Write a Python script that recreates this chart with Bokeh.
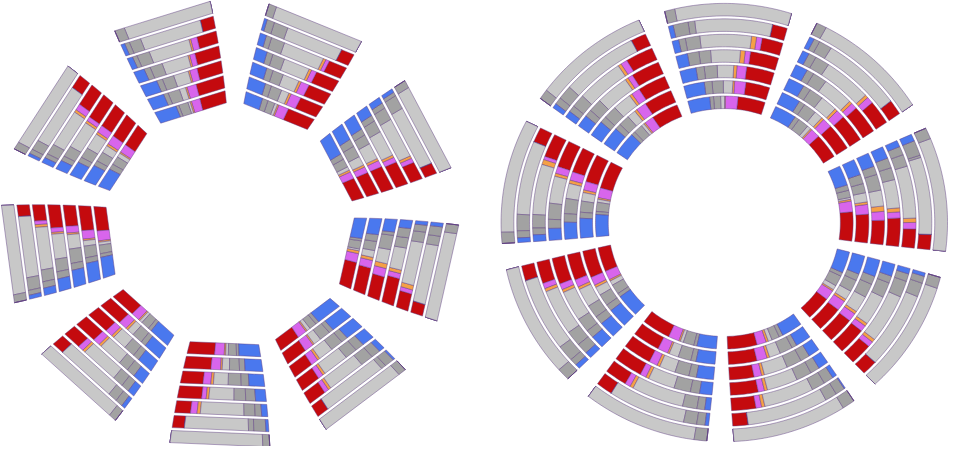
import numpy as np
from bokeh.plotting import figure
from bokeh.models import Range1d, ColumnDataSource
from bokeh.embed import file_html
from bokeh.resources import INLINE

# segment order along each bar (counter-clockwise)
segments = ["red", "magenta", "orange", "light", "dark", "dark2", "blue"]
seg_colors = ["#c40a0e", "#d865ec", "#f5a046", "#c8c8c8", "#a2a2a2", "#9e9e9e", "#4a78ee"]

# ---------------- left chart: 9 sectors, 7 rings each (inner -> outer) ----------------
left_sectors = ["bottom", "lower-right", "right", "right-upper", "top-right",
                "top-left", "upper-left", "left", "lower-left"]
L_BOTTOM = [[37, 13, 2, 3.5, 11, 3.5, 29], [34, 12, 2, 9, 12.5, 7, 22], [26, 9, 3, 17, 15, 9, 18],
            [27, 5, 3, 28, 13, 11, 12], [17, 7, 3.5, 47, 12, 7, 6.5], [12.5, 0, 0, 66, 5.5, 12.5, 3],
            [0, 0, 0, 93, 7, 0, 0]]
L_LOWER_RIGHT = [[30, 13, 2, 5, 10, 5, 35], [28, 12, 2, 10, 14, 6, 28], [25, 9, 3, 18, 15, 8, 22],
                 [23, 6, 3, 30, 14, 10, 14], [20, 5, 3, 42, 14, 10, 6], [13, 0, 0, 70, 5, 10, 2],
                 [0, 0, 0, 92, 8, 0, 0]]
L_RIGHT = [[37, 12.5, 4, 2.5, 11.5, 3.5, 28.5], [35, 10, 4, 9, 12, 9, 21], [28, 10, 5.6, 17, 17, 4, 15],
           [32, 6, 4, 26, 12, 11, 9.5], [19, 4.6, 5, 48, 11.5, 7.7, 4], [12.5, 0, 0, 63, 10, 10, 4],
           [0, 0, 0, 91, 9, 0, 0]]
L_RIGHT_UPPER = [[30, 10, 3, 5, 12, 8, 32], [30, 8, 3, 12, 15, 10, 22], [30, 8, 3, 20, 12, 8, 19],
                 [28, 6, 3, 30, 14, 7, 12], [20, 5, 3, 45, 14, 6, 7], [12, 0, 0, 65, 15, 4, 4],
                 [0, 0, 0, 92, 8, 0, 0]]
L_TOP_RIGHT = [[38, 14, 2, 4, 10, 8, 24], [30, 13, 3, 10, 14, 8, 22], [28, 10, 3, 20, 13, 8, 18],
               [27, 6, 3, 30, 14, 7, 13], [20, 4, 3, 45, 15, 6, 7], [14, 0, 0, 60, 15, 8, 3],
               [0, 0, 0, 92, 8, 0, 0]]
L_TOP_LEFT = [[36, 12, 2, 3, 13, 4, 30], [36, 12, 2, 8, 15, 6, 21], [30, 9, 2, 18, 14, 7, 20],
              [28, 6, 2, 30, 14, 7, 12], [22, 7, 2, 45, 14, 5, 6], [14, 0, 0, 64, 12, 5, 4],
              [0, 0, 0, 90, 10, 0, 0]]
L_UPPER_LEFT = [[32, 12, 2, 6, 12, 8, 28], [32, 12, 3, 10, 13, 7, 23], [30, 9, 3, 20, 13, 7, 18],
                [30, 5, 3, 32, 13, 6, 11], [25, 7, 3, 42, 12, 5, 6], [15, 0, 0, 66, 11, 5, 3],
                [0, 0, 0, 92, 8, 0, 0]]
L_LEFT = [[34, 14, 2, 4, 12, 5, 29], [32, 11, 2, 7, 15, 7, 25], [25, 8, 2, 17, 17, 8, 20],
          [26, 5, 2, 28, 14, 8, 14], [18, 4, 3, 47, 13, 7, 8], [12, 0, 0, 63, 13, 5, 4],
          [0, 0, 0, 92, 8, 0, 0]]
L_LOWER_LEFT = [[35, 12, 2, 4, 12, 5, 30], [32, 11, 3, 9, 14, 7, 24], [28, 9, 3, 18, 14, 8, 20],
                [26, 8, 3, 28, 12, 10, 13], [20, 6, 3, 42, 12, 9, 8], [13, 0, 0, 65, 10, 8, 4],
                [0, 0, 0, 92, 8, 0, 0]]
left_data = [L_BOTTOM, L_LOWER_RIGHT, L_RIGHT, L_RIGHT_UPPER, L_TOP_RIGHT,
             L_TOP_LEFT, L_UPPER_LEFT, L_LEFT, L_LOWER_LEFT]

# ---------------- right chart: 9 sectors, 7 rings each (inner -> outer) ----------------
right_sectors = ["top", "upper-left", "left", "lower-left", "bottom-left",
                 "bottom-right", "lower-right", "right", "upper-right"]
R_TOP = [[35, 16, 1, 5, 9, 5, 28], [28, 13, 2, 11, 13, 9, 24], [29, 10, 3.4, 17, 13.5, 8.5, 17],
         [27, 5, 4.5, 28, 11, 11, 11], [19, 5, 4.5, 46, 13, 6, 6], [12.5, 0, 0, 64, 5.5, 12.5, 4],
         [0, 0, 0, 92, 8, 0, 0]]
R_UPPER_LEFT = [[35, 12, 2, 4, 12, 5, 30], [33, 12, 3, 10, 13, 7, 22], [30, 9, 3, 20, 14, 7, 17],
                [28, 5, 3, 32, 13, 7, 12], [25, 6, 3, 42, 12, 6, 6], [13, 0, 0, 65, 12, 6, 4],
                [0, 0, 0, 92, 8, 0, 0]]
R_LEFT = [[36, 13, 2, 4, 12, 4, 29], [33, 10, 3, 10, 13, 7, 23], [27, 9, 3.5, 16, 16, 9, 18],
          [27, 7, 3, 27, 16, 9, 12], [21, 3, 4.5, 45, 12, 6, 6], [13, 0, 0, 63, 14, 6, 4],
          [0, 0, 0, 91, 9, 0, 0]]
R_LOWER_LEFT = [[32, 12, 2, 6, 13, 5, 30], [32, 10, 3, 10, 14, 8, 23], [28, 8, 3, 20, 14, 9, 18],
                [26, 6, 3, 30, 14, 8, 13], [20, 5, 3, 42, 14, 10, 6], [13, 0, 0, 63, 14, 6, 4],
                [0, 0, 0, 90, 10, 0, 0]]
R_BOTTOM_LEFT = [[37, 14, 2, 4, 14, 4, 25], [32, 12, 2, 11, 15, 6, 22], [30, 9, 3, 17, 15, 8, 18],
                 [28, 6, 3, 26, 16, 9, 12], [20, 5, 3, 47, 13, 7, 5], [14, 0, 0, 65, 11, 7, 3],
                 [0, 0, 0, 90, 10, 0, 0]]
R_BOTTOM_RIGHT = [[38, 12, 3, 5, 10, 5, 27], [33, 12, 3, 13, 15, 6, 18], [26, 8, 3, 25, 16, 10, 12],
                  [27, 6, 3, 30, 15, 9, 10], [22, 5, 3, 45, 12, 9, 4], [13, 0, 0, 68, 10, 8, 1],
                  [0, 0, 0, 90, 10, 0, 0]]
R_LOWER_RIGHT = [[32, 13, 2, 6, 14, 5, 28], [30, 12, 3, 11, 14, 8, 22], [28, 9, 3, 18, 15, 9, 18],
                 [27, 6, 3, 30, 15, 7, 12], [20, 5, 3, 45, 15, 7, 5], [13, 0, 0, 66, 12, 6, 3],
                 [0, 0, 0, 91, 9, 0, 0]]
R_RIGHT = [[38, 14, 2.4, 2.4, 9.5, 7, 26], [34, 11.5, 3, 11, 11, 11, 19], [26, 9.4, 5.7, 17, 17, 9, 15],
           [28, 6, 4, 28, 12, 10, 12], [17.5, 6, 4, 48, 11, 8, 6], [13, 0, 0, 66, 2, 13, 6],
           [0, 0, 0, 91, 9, 0, 0]]
R_UPPER_RIGHT = [[33, 12, 2, 5, 14, 6, 28], [32, 11, 3, 10, 15, 7, 22], [30, 9, 3, 18, 15, 8, 17],
                 [28, 6, 3, 30, 14, 7, 12], [22, 6, 3, 43, 13, 7, 6], [13, 0, 0, 67, 11, 5, 4],
                 [0, 0, 0, 92, 8, 0, 0]]
right_data = [R_TOP, R_UPPER_LEFT, R_LEFT, R_LOWER_LEFT, R_BOTTOM_LEFT,
              R_BOTTOM_RIGHT, R_LOWER_RIGHT, R_RIGHT, R_UPPER_RIGHT]


def build(data, cx, cy, start_deg, r_in, r_out, h_in_deg, h_out_deg, straight, gap=3.0):
    xs, ys, cols = [], [], []
    n_ring = len(data[0])
    pitch = (r_out - r_in + gap) / n_ring
    thick = pitch - gap

    def half(r):
        t = (r - r_in) / (r_out - r_in)
        return np.radians(h_in_deg + (h_out_deg - h_in_deg) * t)

    def pt(r, a):
        return cx + r * np.cos(a), cy - r * np.sin(a)

    for s, sector in enumerate(data):
        tc = np.radians(start_deg + 40.0 * s)
        for k, vals in enumerate(sector):
            r0 = r_in + k * pitch
            r1 = r0 + thick
            h0, h1 = half(r0), half(r1)
            v = np.array(vals, dtype=float)
            cum = np.concatenate([[0.0], np.cumsum(v)]) / v.sum()
            for i in range(len(v)):
                fa, fb = cum[i], cum[i + 1]
                if straight:
                    def cp(r, h, f):
                        x0, y0 = pt(r, tc - h)
                        x1, y1 = pt(r, tc + h)
                        return x0 + (x1 - x0) * f, y0 + (y1 - y0) * f
                    p = [cp(r0, h0, fa), cp(r0, h0, fb), cp(r1, h1, fb), cp(r1, h1, fa)]
                    px = [q[0] for q in p]
                    py = [q[1] for q in p]
                else:
                    n = max(2, int(np.degrees(2 * h1 * (fb - fa))) + 2)
                    ai = np.linspace(tc - h0 + 2 * h0 * fa, tc - h0 + 2 * h0 * fb, n)
                    ao = np.linspace(tc - h1 + 2 * h1 * fb, tc - h1 + 2 * h1 * fa, n)
                    px = list(cx + r0 * np.cos(ai)) + list(cx + r1 * np.cos(ao))
                    py = list(cy - r0 * np.sin(ai)) + list(cy - r1 * np.sin(ao))
                xs.append(px)
                ys.append(py)
                cols.append(seg_colors[i])
    return xs, ys, cols


lx, ly, lc = build(left_data, 233.0, 233.0, 267.5, 127.0, 233.0, 16.0, 12.6, True)
rx, ry, rc = build(right_data, 736.0, 230.0, 89.0, 118.0, 227.0, 17.6, 16.5, False)

src = ColumnDataSource(dict(xs=lx + rx, ys=ly + ry, color=lc + rc))

p = figure(width=949, height=446, x_range=Range1d(0, 965), y_range=Range1d(462, 0),
           output_backend="svg", toolbar_location=None, min_border=0)
p.axis.visible = False
p.grid.visible = False
p.outline_line_color = None
p.background_fill_color = "white"
p.border_fill_color = "white"

p.patches("xs", "ys", source=src, fill_color="color", line_color="#5e3c80",
          line_alpha=0.45, line_width=1)

open("out.html", "w").write(file_html(p, INLINE))
